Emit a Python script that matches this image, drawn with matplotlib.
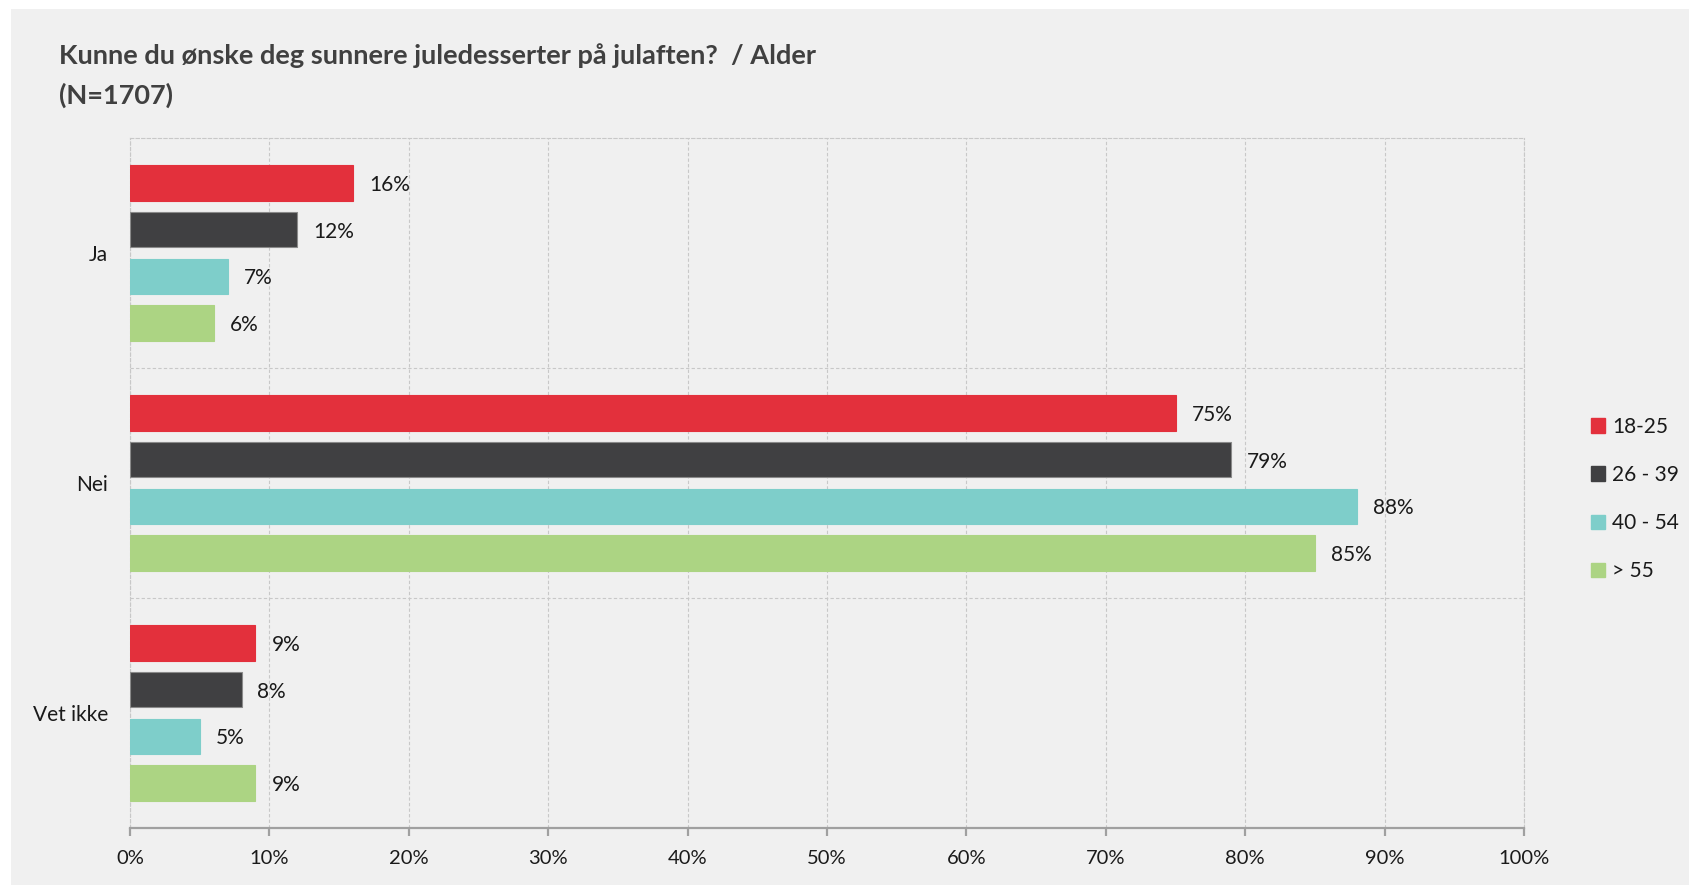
import numpy as np
import matplotlib.pyplot as plt
from matplotlib.patches import Rectangle

# === Data ===
categories = ['Ja', 'Nei', 'Vet ikke']
groups = ['18-25', '26 - 39', '40 - 54', '> 55']
values = {
    '18-25':   [16, 75, 9],
    '26 - 39': [12, 79, 8],
    '40 - 54': [7, 88, 5],
    '> 55':    [6, 85, 9],
}
colors = ['#e3303c', '#404042', '#7ececa', '#acd483']
title_line1 = 'Kunne du ønske deg sunnere juledesserter på julaften?  / Alder'
title_line2 = '(N=1707)'

plt.rcParams['font.family'] = ['Lato', 'DejaVu Sans']

W, H = 1690, 885
fig = plt.figure(figsize=(W / 100, H / 100), dpi=100)
fig.patch.set_facecolor('white')
fig.patches.append(Rectangle((11 / W, 0), 1 - 11 / W, 1 - 9 / H, transform=fig.transFigure,
                             facecolor='#f0f0f0', edgecolor='none', zorder=-10))

ax = fig.add_axes([130 / W, 1 - 828 / H, (1524 - 130) / W, (828 - 138) / H])
ax.set_facecolor('none')

pitch = 0.203
height = 0.154
y = np.arange(len(categories))
for i, (g, c) in enumerate(zip(groups, colors)):
    off = (i - 1.5) * pitch
    vals = np.array(values[g]) / 100
    edge = '#8a8a8a' if g == '26 - 39' else c
    ax.barh(y + off, vals, height=height, color=c, edgecolor=edge, linewidth=0.8, zorder=3, label=g)
    for yy, v in zip(y + off, vals):
        ax.annotate(f'{int(round(v * 100))}%', (v, yy), xytext=(11.5, 0), textcoords='offset points',
                    va='center_baseline', ha='left', fontsize=15, color='#1a1a1a')

ax.set_xlim(0, 1)
ax.set_ylim(2.5, -0.5)
ax.set_xticks(np.arange(0, 1.01, 0.1))
ax.set_xticklabels([f'{int(round(t * 100))}%' for t in np.arange(0, 1.01, 0.1)])
ax.set_yticks(y)
ax.set_yticklabels(categories)
ax.set_yticks([0.5, 1.5], minor=True)

grid_kw = dict(color='#c8c8c8', linestyle=(0, (3, 2)), linewidth=0.8)
ax.grid(axis='x', which='major', **grid_kw)
ax.grid(axis='y', which='minor', **grid_kw)
ax.set_axisbelow(True)

for s in ['top', 'left', 'right']:
    ax.spines[s].set_color('#c8c8c8')
    ax.spines[s].set_linestyle((0, (3, 2)))
    ax.spines[s].set_linewidth(0.8)
ax.spines['bottom'].set_color('#a0a0a0')
ax.spines['bottom'].set_linewidth(1.6)

ax.tick_params(axis='x', direction='out', length=6, width=1.6, color='#a0a0a0',
               labelsize=14.5, labelcolor='#1a1a1a', pad=10)
ax.tick_params(axis='y', which='both', length=0, labelsize=15, labelcolor='#1a1a1a', pad=16)

fig.text(59 / W, 1 - 56 / H, title_line1, fontsize=19.5, fontweight='bold', color='#404040', va='center')
fig.text(59 / W, 1 - 95 / H, title_line2, fontsize=19.5, fontweight='bold', color='#404040', va='center')

handles = [Rectangle((0, 0), 1, 1, color=c) for c in colors]
fig.legend(handles, groups, loc='center left', bbox_to_anchor=(1591 / W, 1 - 499 / H),
           frameon=False, fontsize=15, labelspacing=1.35, handlelength=0.68, handleheight=0.68,
           handletextpad=0.35, borderaxespad=0, borderpad=0, labelcolor='#1a1a1a')

fig.savefig('out.png', dpi=100, facecolor=fig.get_facecolor())
